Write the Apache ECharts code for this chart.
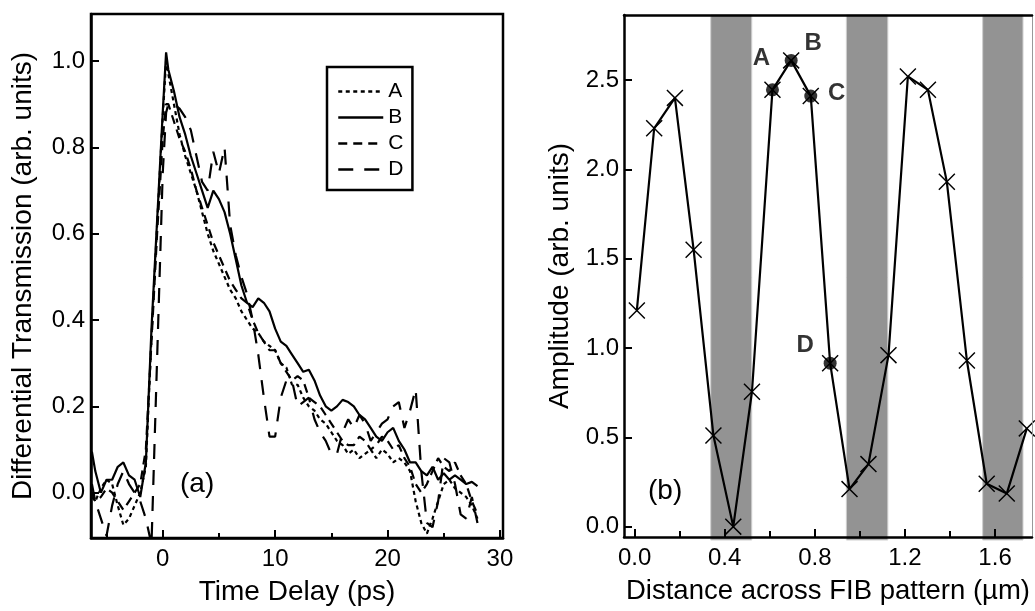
<!DOCTYPE html>
<html>
<head>
<meta charset="utf-8">
<script src="https://cdn.jsdelivr.net/npm/echarts@6/dist/echarts.min.js"></script>
<style>
html,body{margin:0;padding:0;background:#fff;}
#chart{width:1035px;height:611px;}
</style>
</head>
<body>
<div id="chart"></div>
<script>
// ---------- Panel (a): differential transmission vs time delay ----------
const delay = [-6.3,-6.0,-5.5,-5.0,-4.5,-4.0,-3.5,-3.0,-2.5,-2.0,-1.5,-1.0,-0.5,0.0,0.3,0.5,
  1.0,1.5,2.0,2.5,3.0,3.5,4.0,4.5,5.0,5.5,6.0,6.5,7.0,7.5,8.0,8.5,9.0,9.5,10.0,10.5,11.0,11.5,
  12.0,12.5,13.0,13.5,14.0,14.5,15.0,15.5,16.0,16.5,17.0,17.5,18.0,18.5,19.0,19.5,20.0,20.5,
  21.0,21.5,22.0,22.5,23.0,23.5,24.0,24.5,25.0,25.5,26.0,26.5,27.0,27.5,28.0];

const traceA = [-0.01,-0.02,0.01,0.03,0.02,-0.03,-0.075,-0.06,-0.03,0.0,0.06,0.36,0.62,0.87,1.0,0.97,
  0.90,0.83,0.78,0.74,0.70,0.65,0.60,0.56,0.53,0.50,0.47,0.45,0.42,0.40,0.38,0.37,0.35,0.34,0.33,0.30,0.29,0.25,
  0.25,0.22,0.20,0.19,0.17,0.16,0.14,0.12,0.11,0.09,0.10,0.08,0.09,0.10,0.08,0.10,0.09,0.07,
  0.08,0.07,0.05,-0.02,-0.07,-0.095,-0.06,-0.02,0.02,0.03,0.01,0.0,-0.01,-0.03,-0.06];

const traceB = [0.095,0.05,0.0,0.03,0.03,0.06,0.07,0.04,0.03,-0.01,0.07,0.38,0.63,0.88,1.02,0.98,
  0.93,0.87,0.83,0.78,0.74,0.70,0.66,0.70,0.68,0.65,0.60,0.54,0.48,0.44,0.43,0.45,0.44,0.42,0.38,0.35,0.34,0.32,
  0.30,0.28,0.285,0.26,0.225,0.20,0.19,0.20,0.215,0.21,0.20,0.18,0.17,0.15,0.13,0.12,0.14,0.15,
  0.12,0.10,0.07,0.07,0.05,0.04,0.06,0.03,0.045,0.03,0.04,0.03,0.02,0.025,0.015];

const traceC = [0.0,-0.02,-0.01,0.01,0.0,-0.02,-0.04,-0.02,0.0,0.02,0.1,0.35,0.6,0.82,0.9,0.9,
  0.86,0.82,0.79,0.75,0.70,0.66,0.62,0.58,0.55,0.52,0.49,0.47,0.45,0.44,0.40,0.37,0.35,0.33,0.33,0.30,0.28,0.26,
  0.27,0.26,0.22,0.21,0.20,0.18,0.16,0.14,0.12,0.11,0.11,0.13,0.12,0.10,0.11,0.13,0.12,0.10,
  0.11,0.08,0.06,0.02,0.0,0.02,0.05,0.08,0.06,0.05,0.07,0.04,0.02,-0.02,-0.05];

const traceD = [0.02,-0.02,-0.06,-0.1,-0.03,0.02,0.05,0.02,0.0,-0.02,-0.06,-0.12,0.31,0.74,0.88,0.9,
  0.9,0.89,0.87,0.84,0.78,0.72,0.70,0.79,0.74,0.80,0.62,0.55,0.50,0.46,0.40,0.32,0.22,0.13,0.13,0.22,0.26,0.26,
  0.20,0.21,0.22,0.17,0.14,0.12,0.09,0.09,0.14,0.17,0.15,0.18,0.16,0.12,0.14,0.16,0.17,0.20,
  0.21,0.15,0.19,0.24,0.05,-0.07,-0.08,-0.02,0.08,0.07,0.02,-0.05,-0.06,-0.01,-0.07];

const traceNames = ['A','B','C','D'];
const delayTicks = [0,10,20,30];
const delayMinorTicks = [-5,5,15,25];
const transTicks = [0,0.2,0.4,0.6,0.8,1.0];

// ---------- Panel (b): amplitude vs distance ----------
const distance = [0.01,0.087,0.179,0.262,0.350,0.438,0.521,0.612,0.695,0.782,0.868,0.954,1.038,
  1.127,1.213,1.302,1.386,1.475,1.563,1.652,1.741];
const amplitude = [1.21,2.23,2.40,1.55,0.51,0.0,0.755,2.445,2.61,2.41,0.915,0.21,0.35,
  0.96,2.52,2.445,1.93,0.93,0.24,0.185,0.55];
const markedIndex = [7,8,9,10];
const markedNames = ['A','B','C','D'];
const bandStart = [0.338,0.940,1.545];
const bandEnd = [0.520,1.124,1.724];
const distTicks = [0,0.4,0.8,1.2,1.6];
const distMinorTicks = [0.2,0.6,1.0,1.4];
const ampTicks = [0,0.5,1.0,1.5,2.0,2.5];

// ---------- build ----------
const FONT = "'Liberation Sans', Arial, sans-serif";
const BLACK = '#000';
const dashes = {A:[4,3.5], B:'solid', C:[9,6], D:[15,11]};
const traces = {A:traceA, B:traceB, C:traceC, D:traceD};
const labelOffsets = {A:[-11,-31], B:[22,-17], C:[26,-3], D:[-25,-18]};
const crossPath = 'path://M0,0.6 L0.6,0 L10,9.4 L9.4,10 Z M9.4,0 L10,0.6 L0.6,10 L0,9.4 Z';

const tickLine = {color:BLACK, width:2};
const fmt1 = v => Number(v).toFixed(1);

const chart = echarts.init(document.getElementById('chart'), null, {renderer:'canvas'});

const series = traceNames.map(n => ({
  name:n, type:'line', xAxisIndex:0, yAxisIndex:0,
  data: delay.map((t,i) => [t, traces[n][i]]),
  symbol:'none', clip:true, z:2,
  lineStyle:{color:BLACK, width:2.2, type:dashes[n]},
  itemStyle:{color:BLACK}
}));

series.push({
  name:'bands', type:'custom', xAxisIndex:2, yAxisIndex:1, z:1, silent:true,
  data: bandStart.map((s,i) => [s, bandEnd[i]]),
  encode:{x:[0,1]},
  renderItem:function(params, api){
    const cs = params.coordSys;
    const x0 = api.coord([api.value(0), 0])[0];
    const x1 = api.coord([api.value(1), 0])[0];
    return {type:'rect', shape:{x:x0, y:cs.y, width:x1-x0, height:cs.height+3},
            style:{fill:'#939393', stroke:'#cfcfcf', lineWidth:1}};
  }
});

series.push({
  name:'profile', type:'line', xAxisIndex:2, yAxisIndex:1, z:3,
  data: distance.map((d,i) => [d, amplitude[i]]),
  symbol:crossPath, symbolSize:17, showAllSymbol:true,
  lineStyle:{color:BLACK, width:2.2},
  itemStyle:{color:BLACK}
});

series.push({
  name:'marked', type:'scatter', xAxisIndex:2, yAxisIndex:1, z:4,
  symbol:'circle', symbolSize:13,
  itemStyle:{color:BLACK},
  data: markedIndex.map((k,j) => ({
    name: markedNames[j],
    value:[distance[k], amplitude[k]],
    label:{show:true, position:'inside', offset:labelOffsets[markedNames[j]], formatter:'{b}',
           fontSize:24, fontWeight:'bold', color:BLACK, fontFamily:FONT}
  }))
});

const option = {
  animation:false,
  backgroundColor:'#fff',
  textStyle:{fontFamily:FONT, color:BLACK},
  grid:[
    {left:91, top:14, width:412, height:524, show:true, borderColor:BLACK, borderWidth:2.5},
    {left:624, top:15, width:408, height:522, show:false}
  ],
  legend:{
    data:traceNames, orient:'vertical', left:327, top:67,
    itemWidth:45, itemHeight:20, itemGap:5,
    padding:[14,9,10,10],
    borderColor:BLACK, borderWidth:2.5,
    itemStyle:{opacity:0},
    lineStyle:{width:2.5, color:BLACK},
    textStyle:{fontSize:21, color:BLACK, fontFamily:FONT, lineHeight:20},
    selectedMode:false
  },
  xAxis:[
    {gridIndex:0, type:'value', min:-6.38, max:30.27, position:'bottom',
     axisLine:{onZero:false, lineStyle:{color:BLACK, width:2.5}},
     axisTick:{inside:true, length:8, lineStyle:tickLine, customValues:delayTicks},
     axisLabel:{customValues:delayTicks, fontSize:24, color:BLACK, margin:9, fontFamily:FONT},
     splitLine:{show:false},
     name:'Time Delay (ps)', nameLocation:'middle', nameGap:40,
     nameTextStyle:{fontSize:28, color:BLACK, fontFamily:FONT}},
    {gridIndex:0, type:'value', min:-6.38, max:30.27, position:'bottom',
     axisLine:{show:false, onZero:false},
     axisTick:{inside:true, length:5, lineStyle:tickLine, customValues:delayMinorTicks},
     axisLabel:{show:false}, splitLine:{show:false}},
    {gridIndex:1, type:'value', min:-0.047, max:1.764, position:'bottom', z:5,
     axisLine:{onZero:false, lineStyle:{color:BLACK, width:2.5}},
     axisTick:{inside:true, length:8, lineStyle:tickLine, customValues:distTicks},
     axisLabel:{customValues:distTicks, formatter:fmt1, fontSize:24, color:BLACK, margin:9, fontFamily:FONT},
     splitLine:{show:false},
     name:'Distance across FIB pattern (µm)', nameLocation:'middle', nameGap:40,
     nameTextStyle:{fontSize:27.5, color:BLACK, fontFamily:FONT}},
    {gridIndex:1, type:'value', min:-0.047, max:1.764, position:'bottom', z:5,
     axisLine:{show:false, onZero:false},
     axisTick:{inside:true, length:6, lineStyle:tickLine, customValues:distMinorTicks},
     axisLabel:{show:false}, splitLine:{show:false}},
    {gridIndex:1, type:'value', min:-0.047, max:1.764, position:'top', z:5,
     axisLine:{onZero:false, lineStyle:{color:BLACK, width:2.5}},
     axisTick:{show:false}, axisLabel:{show:false}, splitLine:{show:false}}
  ],
  yAxis:[
    {gridIndex:0, type:'value', min:-0.105, max:1.109, position:'left',
     axisLine:{onZero:false, lineStyle:{color:BLACK, width:2.5}},
     axisTick:{inside:true, length:8, lineStyle:tickLine, customValues:transTicks},
     axisLabel:{customValues:transTicks, formatter:fmt1, fontSize:24, color:BLACK, margin:6, fontFamily:FONT},
     splitLine:{show:false},
     name:'Differential Transmission (arb. units)', nameLocation:'middle', nameGap:54, nameRotate:90,
     nameTextStyle:{fontSize:28, color:BLACK, fontFamily:FONT}},
    {gridIndex:1, type:'value', min:-0.058, max:2.864, position:'left', z:5,
     axisLine:{onZero:false, lineStyle:{color:BLACK, width:2.5}},
     axisTick:{inside:true, length:8, lineStyle:tickLine, customValues:ampTicks},
     axisLabel:{customValues:ampTicks, formatter:fmt1, fontSize:24, color:BLACK, margin:5, fontFamily:FONT},
     splitLine:{show:false},
     name:'Amplitude (arb. units)', nameLocation:'middle', nameGap:50, nameRotate:90,
     nameTextStyle:{fontSize:28, color:BLACK, fontFamily:FONT}},
    {gridIndex:1, type:'value', min:-0.058, max:2.864, position:'right', z:5,
     axisLine:{onZero:false, lineStyle:{color:'#999', width:1}},
     axisTick:{show:false}, axisLabel:{show:false}, splitLine:{show:false}}
  ],
  graphic:[
    {type:'text', left:180, top:470, style:{text:'(a)', font:'28px ' + FONT, fill:BLACK}},
    {type:'text', left:648, top:477, style:{text:'(b)', font:'28px ' + FONT, fill:BLACK}}
  ],
  series:series
};

chart.setOption(option);
</script>
</body>
</html>
